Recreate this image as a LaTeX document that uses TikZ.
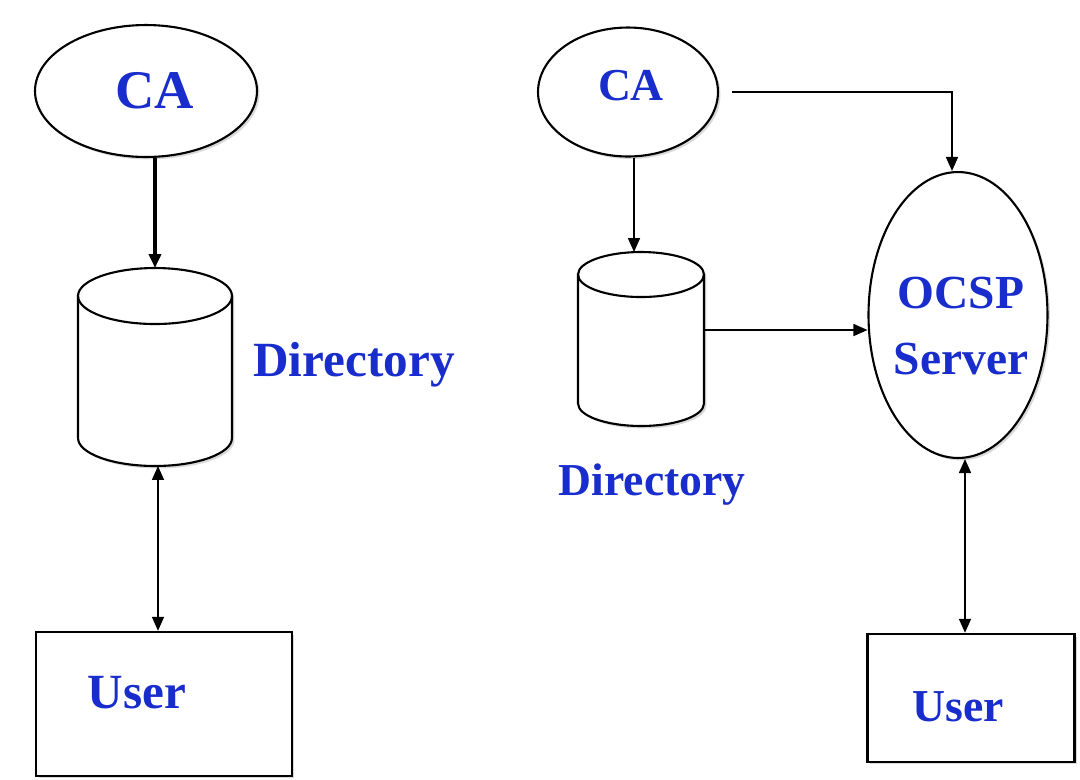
\documentclass[tikz,border=0pt]{standalone}
\usepackage{fontspec}
\setmainfont{Liberation Serif}
\usetikzlibrary{shapes.geometric,shadows,arrows.meta}
\definecolor{schriftblau}{RGB}{25,45,205}

% cylinder drawn over an empty node: #1 name, #2 x radius, #3 y radius
\newcommand{\tonne}[3]{%
  \draw[line width=1.2pt,fill=white,schatten]
    ([yshift=-#3]#1.north west) -- ([yshift=#3]#1.south west)
    arc[start angle=180,end angle=360,x radius=#2,y radius=#3]
    -- ([yshift=-#3]#1.north east)
    arc[start angle=0,end angle=180,x radius=#2,y radius=#3] -- cycle;
  \draw[line width=1.2pt] ([yshift=-#3]#1.north west)
    arc[start angle=180,end angle=360,x radius=#2,y radius=#3];
}

\begin{document}
\begin{tikzpicture}[x=0.02cm,y=-0.02cm,
    >={Triangle[length=0.28cm,width=0.24cm]},
    schatten/.style={drop shadow={shadow xshift=0.05cm,shadow yshift=-0.05cm,opacity=0.3}},
    oval/.style={ellipse,draw,line width=1.2pt,fill=white,schatten,inner sep=0pt},
    platz/.style={rectangle,inner sep=0pt,outer sep=0pt},
    kasten/.style={rectangle,draw,line width=1.4pt,fill=white,schatten,inner sep=0pt},
    schrift/.style={text=schriftblau,font=\bfseries\fontsize{#1}{#1}\selectfont},
    pfeil/.style={->,line width=0.9pt},
]
\useasboundingbox (0,0) rectangle (1080,779);

% left: CA -> directory <-> user
\node[oval,minimum width=4.44cm,minimum height=2.64cm,
  label={[schrift=31,xshift=0.18cm]center:CA}] (caL) at (146,91) {};
\node[platz,minimum width=3.08cm,minimum height=3.96cm] (dirL) at (155,367) {};
\tonne{dirL}{1.54cm}{0.56cm}
\node[schrift=28] (dirLtext) at (354,365) {Directory};
\node[kasten,minimum width=5.12cm,minimum height=2.88cm,
  label={[schrift=28,xshift=-0.54cm,yshift=0.22cm]center:User}] (userL) at (164,704) {};

\draw[pfeil,line width=2.2pt] (dirL.north |- caL.south) -- (dirL.north);
\draw[pfeil,<->] ([xshift=0.06cm]dirL.south) -- ([xshift=0.06cm]dirL.south |- userL.north);

% right: CA -> directory -> OCSP server <-> user
\node[oval,minimum width=3.6cm,minimum height=2.58cm,
  label={[schrift=26,xshift=0.06cm,yshift=0.12cm]center:CA}] (caR) at (628,92) {};
\node[platz,minimum width=2.52cm,minimum height=3.48cm] (dirR) at (641,339) {};
\tonne{dirR}{1.26cm}{0.45cm}
\node[schrift=26] (dirRtext) at (652,485) {Directory};
\node[oval,minimum width=3.58cm,minimum height=5.72cm,
  label={[align=center,text=schriftblau,font=\bfseries\fontsize{27}{38}\selectfont,
  xshift=0.06cm,yshift=-0.22cm]center:OCSP\\Server}] (ocsp) at (958,315) {};
\node[kasten,minimum width=4.14cm,minimum height=2.56cm,
  label={[schrift=26,xshift=-0.25cm,yshift=-0.18cm]center:User}] (userR) at (971,698) {};

\draw[pfeil] ([xshift=0.12cm]caR.south) -- ([xshift=0.12cm]caR.south |- dirR.north);
\draw[pfeil,shorten <=0.26cm] (caR.east) -| ([xshift=-0.12cm]ocsp.north);
\draw[pfeil] ([yshift=0.18cm]dirR.east) -- ([yshift=0.18cm]dirR.east -| ocsp.west);
\draw[pfeil,<->] ([xshift=0.14cm]ocsp.south) -- ([xshift=0.14cm]ocsp.south |- userR.north);

\end{tikzpicture}
\end{document}
